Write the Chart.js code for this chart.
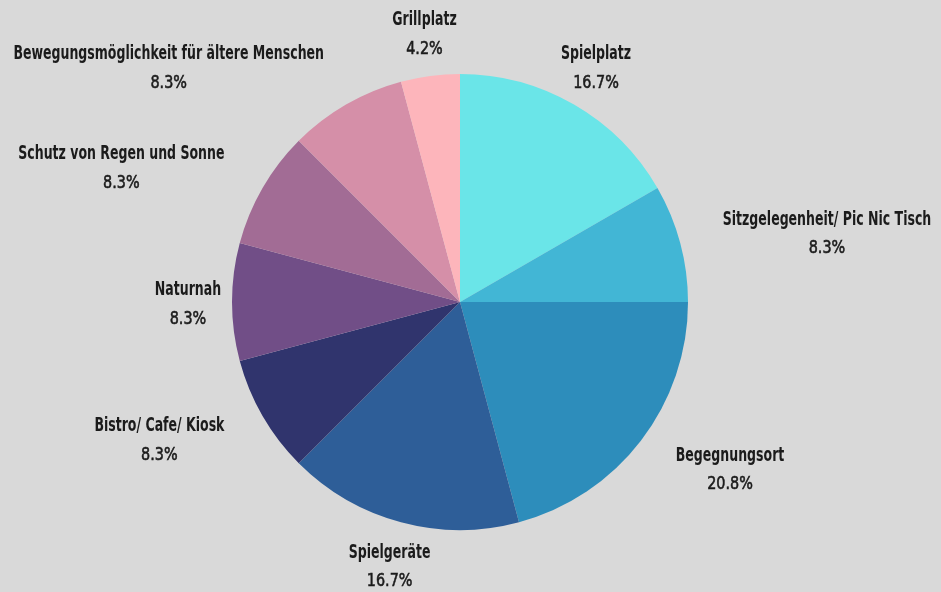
<!DOCTYPE html>
<html>
<head>
<meta charset="utf-8">
<script src="https://cdn.jsdelivr.net/npm/chart.js@4.4.1/dist/chart.umd.min.js"></script>
<style>
  html, body { margin: 0; padding: 0; background: #d9d9d9; }
  #wrap { width: 941px; height: 592px; }
</style>
</head>
<body>
<div id="wrap"><canvas id="pieChart"></canvas></div>
<script>
const labels = [
  'Spielplatz',
  'Sitzgelegenheit/ Pic Nic Tisch',
  'Begegnungsort',
  'Spielgeräte',
  'Bistro/ Cafe/ Kiosk',
  'Naturnah',
  'Schutz von Regen und Sonne',
  'Bewegungsmöglichkeit für ältere Menschen',
  'Grillplatz'
];
const counts = [4, 2, 5, 4, 2, 2, 2, 2, 1];
const colors = ['#6ae5e8', '#42b6d5', '#2d8dbb', '#2e5e98', '#30346d', '#714e87', '#a26c95', '#d58fa8', '#fdb5bb'];

const FONT = '"DejaVu Sans", sans-serif';
const TITLE_FONT = 'bold 19px ' + FONT;
const PCT_FONT = '18px ' + FONT;
// no condensed face installed, so squeeze the text horizontally
const TITLE_SX = 0.66;
const PCT_SX = 0.8;

function squeezed(ctx, text, x, y, sx, thick) {
  ctx.save();
  ctx.translate(x, y);
  ctx.scale(sx, 1);
  ctx.fillText(text, 0, 0);
  if (thick) ctx.strokeText(text, 0, 0);
  ctx.restore();
}

// draws name + percentage outside each slice
const outsideLabels = {
  id: 'outsideLabels',
  afterDraw(chart) {
    const ctx = chart.ctx;
    const meta = chart.getDatasetMeta(0);
    const data = chart.data.datasets[0].data;
    const total = data.reduce((a, b) => a + b, 0);
    ctx.save();
    ctx.fillStyle = '#1b1b1b';
    ctx.strokeStyle = '#1b1b1b';
    ctx.lineWidth = 0.6;
    ctx.textBaseline = 'middle';
    ctx.textAlign = 'center';
    meta.data.forEach((arc, i) => {
      const p = arc.getProps(['x', 'y', 'startAngle', 'endAngle', 'outerRadius'], true);
      const mid = (p.startAngle + p.endAngle) / 2;
      const R = p.outerRadius + 44;
      const ax = p.x + Math.cos(mid) * R;
      const ay = p.y + Math.sin(mid) * R;
      const title = chart.data.labels[i];
      const pct = (data[i] / total * 100).toFixed(1) + '%';
      ctx.font = TITLE_FONT;
      const tw = ctx.measureText(title).width * TITLE_SX;
      ctx.font = PCT_FONT;
      const pw = ctx.measureText(pct).width * PCT_SX;
      const w = Math.max(tw, pw);
      const top = ay - 22, bottom = ay + 24;
      // centered box: does it cut into the pie?
      let cx = ax;
      const nx = Math.max(ax - w / 2, Math.min(p.x, ax + w / 2));
      const ny = Math.max(top, Math.min(p.y, bottom));
      if (Math.hypot(nx - p.x, ny - p.y) < p.outerRadius - 4) {
        cx = Math.cos(mid) > 0 ? ax + w / 2 : ax - w / 2;
      }
      ctx.font = TITLE_FONT;
      squeezed(ctx, title, cx, ay - 12, TITLE_SX, false);
      ctx.font = PCT_FONT;
      squeezed(ctx, pct, cx, ay + 17, PCT_SX, true);
    });
    ctx.restore();
  }
};

new Chart(document.getElementById('pieChart'), {
  type: 'pie',
  data: {
    labels: labels,
    datasets: [{
      data: counts,
      backgroundColor: colors,
      borderWidth: 0
    }]
  },
  options: {
    responsive: true,
    maintainAspectRatio: false,
    animation: false,
    layout: { padding: { left: 232, right: 253, top: 74, bottom: 62 } },
    plugins: {
      legend: { display: false },
      tooltip: { enabled: false }
    }
  },
  plugins: [outsideLabels]
});
</script>
</body>
</html>
